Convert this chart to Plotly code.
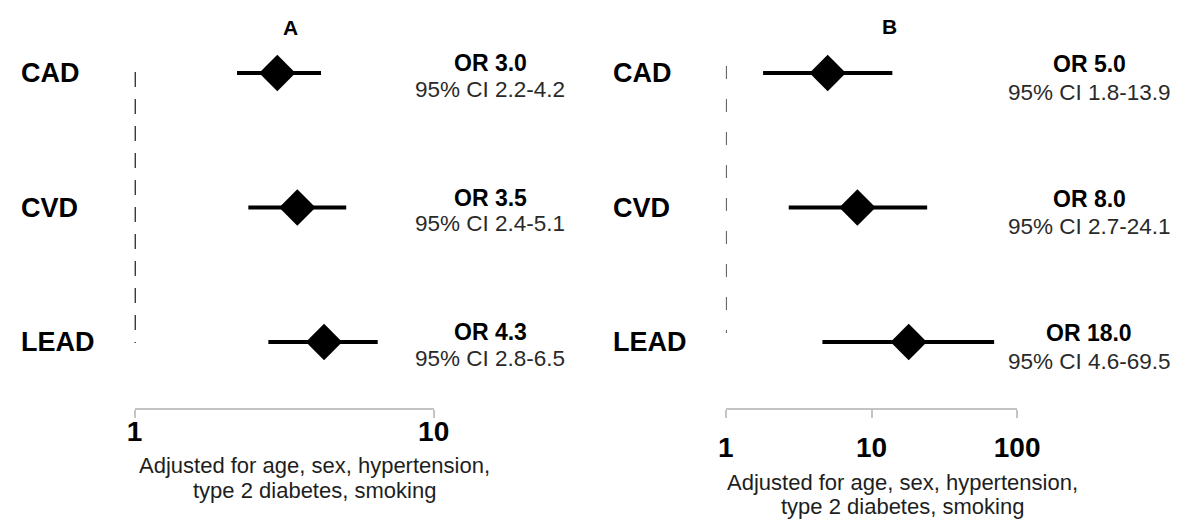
import plotly.graph_objects as go

W, H = 1196, 520

# Outcomes (top to bottom)
outcomes = ["CAD", "CVD", "LEAD"]

# Panel A: odds ratios with 95% confidence limits
or_a = [3.0, 3.5, 4.3]
lo_a = [2.2, 2.4, 2.8]
hi_a = [4.2, 5.1, 6.5]

# Panel B: odds ratios with 95% confidence limits
or_b = [5.0, 8.0, 18.0]
lo_b = [1.8, 2.7, 4.6]
hi_b = [13.9, 24.1, 69.5]

ticks_a = [1, 10]
ticks_b = [1, 10, 100]
note_lines = ["Adjusted for age, sex, hypertension,", "type 2 diabetes, smoking"]

FONT = "Liberation Sans, Arial, Helvetica, sans-serif"
ROW0, ROWSTEP = 73.0, 134.5  # pixel row of first outcome, spacing


def px_x(p):
    return p / W


def px_y(p):
    return 1 - p / H


def row_val(p):
    return (p - ROW0) / ROWSTEP


rows = list(range(len(outcomes)))

fig = go.Figure()


def panel(xref, ors, los, his, ref_top, ref_bot, dash, dcolor, dwidth):
    # reference line at OR = 1
    fig.add_trace(go.Scatter(
        x=[1, 1], y=[row_val(ref_top), row_val(ref_bot)], mode="lines",
        line=dict(color=dcolor, width=dwidth, dash=dash),
        xaxis=xref, yaxis="y", showlegend=False, hoverinfo="skip"))
    # point estimates with confidence intervals
    fig.add_trace(go.Scatter(
        x=ors, y=rows, mode="markers",
        marker=dict(symbol="diamond", size=28, color="black"),
        error_x=dict(type="data", symmetric=False,
                     array=[h - o for h, o in zip(his, ors)],
                     arrayminus=[o - l for o, l in zip(ors, los)],
                     color="black", thickness=4, width=0),
        xaxis=xref, yaxis="y", showlegend=False))


panel("x", or_a, lo_a, hi_a, 72, 343, "15px,12px", "#222222", 2.5)
panel("x2", or_b, lo_b, hi_b, 66, 333, "13px,20px", "#555555", 2)

axis_common = dict(
    type="log", showline=True, linecolor="#c4c4c4", linewidth=1.5,
    ticks="outside", ticklen=8, tickwidth=1.5, tickcolor="#c4c4c4",
    showgrid=False, zeroline=False, anchor="free",
    position=px_y(409),
    tickfont=dict(family=FONT, size=28, color="black", weight="bold"),
)

fig.update_layout(
    width=W, height=H,
    margin=dict(l=0, r=0, t=0, b=0),
    plot_bgcolor="white", paper_bgcolor="white",
    xaxis=dict(axis_common, range=[0, 1], domain=[px_x(130), px_x(437)],
               tickvals=ticks_a, ticktext=[str(t) for t in ticks_a],
               ticklabelstandoff=-10),
    xaxis2=dict(axis_common, range=[0, 2], domain=[px_x(737), px_x(1036)],
                tickvals=ticks_b, ticktext=[str(t) for t in ticks_b],
                ticklabelstandoff=6),
    yaxis=dict(range=[row_val(H), row_val(0)], domain=[0, 1],
               visible=False, fixedrange=True),
)

ann = []


def text(x, y, s, size, bold=False, color="black", xanchor="center",
         yref="paper", yshift=0):
    ann.append(dict(
        x=px_x(x), y=y, xref="paper", yref=yref, text=s, showarrow=False,
        xanchor=xanchor, yanchor="middle", yshift=yshift, align="center",
        font=dict(family=FONT, size=size, color=color,
                  weight="bold" if bold else "normal")))


# panel titles
text(290, px_y(27), "A", 21, bold=True)
text(905, px_y(26), "B", 21, bold=True)

for i, name in enumerate(outcomes):
    text(11, i, name, 27, bold=True, xanchor="left", yref="y")
    text(619, i, name, 27, bold=True, xanchor="left", yref="y")
    text(495, i, f"OR {or_a[i]:.1f}", 23, bold=True, yref="y", yshift=10)
    text(495, i, f"95% CI {lo_a[i]:.1f}-{hi_a[i]:.1f}", 22.5,
         color="#2a2a2a", yref="y", yshift=-16)
    text(1110, i, f"OR {or_b[i]:.1f}", 23, bold=True, yref="y", yshift=9)
    text(1110, i, f"95% CI {lo_b[i]:.1f}-{hi_b[i]:.1f}", 22.5,
         color="#2a2a2a", yref="y", yshift=-19)

# adjustment notes under each axis
for line, (ya, yb) in zip(note_lines, [(465, 482), (490, 506)]):
    text(315, px_y(ya), line, 22, color="#1e1e1e")
    text(918, px_y(yb), line, 22, color="#1e1e1e")

fig.update_layout(annotations=ann)
fig.write_html("out.html")
